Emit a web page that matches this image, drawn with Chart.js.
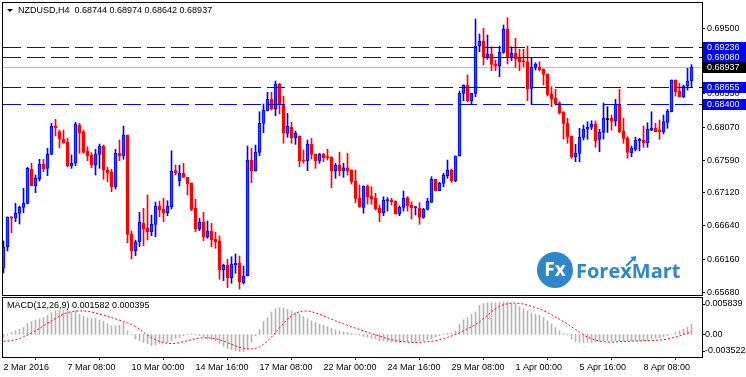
<!DOCTYPE html>
<html>
<head>
<meta charset="utf-8">
<script src="https://cdn.jsdelivr.net/npm/chart.js@4"></script>
<style>
  body { margin: 0; background: #fff; }
  #wrap { position: relative; width: 746px; height: 377px; overflow: hidden; }
  canvas { position: absolute; left: 0; display: block; }
  #main { top: 0; }
  #macd { top: 297px; }
</style>
</head>
<body>
<div id="wrap">
  <canvas id="main" width="746" height="296"></canvas>
  <canvas id="macd" width="746" height="80"></canvas>
</div>
<script>
const symbol = 'NZDUSD,H4';
const macdName = 'MACD(12,26,9)';

const open = [0.66032,0.66335,0.66774,0.66751,0.66823,0.66910,0.66968,0.67460,0.67222,0.67319,
  0.67536,0.67474,0.67675,0.68086,0.68004,0.67898,0.67850,0.67508,0.67547,0.68101,
  0.68004,0.67725,0.67667,0.67522,0.67677,0.67797,0.67450,0.67421,0.67208,0.67691,
  0.67657,0.67956,0.66519,0.66282,0.66412,0.66678,0.66606,0.66557,0.66664,0.66929,
  0.66881,0.66832,0.66919,0.67440,0.67295,0.67402,0.67344,0.67257,0.66895,0.66596,
  0.66693,0.66485,0.66567,0.66451,0.66422,0.66003,0.66075,0.65891,0.66079,0.66100,
  0.65819,0.65920,0.67594,0.67435,0.67706,0.68125,0.68308,0.68473,0.68332,0.68694,
  0.68400,0.67981,0.68068,0.67917,0.67942,0.67594,0.67584,0.67821,0.67677,0.67580,
  0.67677,0.67638,0.67633,0.67440,0.67522,0.67440,0.67483,0.67450,0.67290,0.67040,
  0.66910,0.67218,0.67073,0.67040,0.66895,0.66832,0.67006,0.67016,0.67001,0.66813,
  0.66910,0.67049,0.66943,0.66904,0.66895,0.66765,0.66881,0.66982,0.67315,0.67150,
  0.67257,0.67367,0.67450,0.67295,0.67652,0.68559,0.68675,0.68452,0.68559,0.69244,
  0.69316,0.69089,0.69124,0.68983,0.68959,0.69153,0.69490,0.69080,0.69138,0.69074,
  0.69027,0.69017,0.68632,0.68936,0.68936,0.68911,0.68839,0.68549,0.68487,0.68423,
  0.68293,0.68125,0.67942,0.67642,0.67691,0.67923,0.68039,0.68068,0.68115,0.67894,
  0.67995,0.68180,0.68198,0.68163,0.68405,0.68014,0.67908,0.67700,0.67749,0.67874,
  0.67884,0.67845,0.68028,0.68053,0.68028,0.68004,0.68140,0.68293,0.68752,0.68593,
  0.68510,0.68665,0.68744];
const high = [0.66422,0.66772,0.66776,0.66968,0.66929,0.67185,0.67489,0.67547,0.67377,0.67604,
  0.67604,0.67764,0.68125,0.68183,0.68028,0.68028,0.67908,0.67667,0.68140,0.68125,
  0.68028,0.67787,0.67700,0.67749,0.67826,0.67811,0.67489,0.67460,0.67749,0.67884,
  0.68086,0.67958,0.66567,0.66437,0.66838,0.66895,0.67088,0.66798,0.66987,0.67001,
  0.67040,0.67005,0.67729,0.67522,0.67522,0.67547,0.67346,0.67266,0.67026,0.66751,
  0.66838,0.66712,0.66678,0.66548,0.66495,0.66089,0.66157,0.66195,0.66234,0.66205,
  0.66060,0.67797,0.67764,0.67811,0.68293,0.68405,0.68574,0.68574,0.68737,0.68704,
  0.68520,0.68270,0.68140,0.68014,0.67944,0.67739,0.67884,0.67908,0.67679,0.67691,
  0.67691,0.67749,0.67642,0.67547,0.67706,0.67547,0.67691,0.67452,0.67450,0.67233,
  0.67220,0.67233,0.67208,0.67112,0.66943,0.67063,0.67049,0.67040,0.67003,0.66933,
  0.67146,0.67063,0.66991,0.66921,0.66976,0.66895,0.67040,0.67353,0.67318,0.67272,
  0.67402,0.67594,0.67464,0.67654,0.68593,0.68682,0.68824,0.68561,0.69635,0.69418,
  0.69500,0.69403,0.69234,0.69041,0.69244,0.69548,0.69653,0.69234,0.69355,0.69196,
  0.69196,0.69244,0.69080,0.69002,0.69017,0.68913,0.68841,0.68655,0.68617,0.68438,
  0.68295,0.68198,0.67944,0.67821,0.68053,0.68101,0.68149,0.68163,0.68159,0.68039,
  0.68420,0.68366,0.68245,0.68473,0.68617,0.68198,0.67932,0.67797,0.67923,0.67908,
  0.68086,0.68134,0.68293,0.68125,0.68173,0.68245,0.68328,0.68754,0.68754,0.68704,
  0.68680,0.68921,0.68974];
const low = [0.65959,0.66278,0.66542,0.66702,0.66668,0.66832,0.66958,0.67220,0.67121,0.67290,
  0.67425,0.67367,0.67674,0.67942,0.67772,0.67836,0.67498,0.67474,0.67512,0.67691,
  0.67691,0.67584,0.67483,0.67377,0.67474,0.67315,0.67280,0.67136,0.67175,0.67584,
  0.67604,0.66398,0.66162,0.66210,0.66340,0.66354,0.66437,0.66499,0.66485,0.66774,
  0.66702,0.66788,0.66885,0.67377,0.67218,0.67342,0.67088,0.66861,0.66557,0.66571,
  0.66427,0.66461,0.66340,0.66317,0.65868,0.65848,0.65747,0.65810,0.65955,0.65728,
  0.65800,0.65918,0.67266,0.67433,0.67657,0.67989,0.68306,0.68318,0.68235,0.68260,
  0.67836,0.67923,0.67836,0.67821,0.67498,0.67547,0.67440,0.67609,0.67474,0.67547,
  0.67570,0.67594,0.67193,0.67330,0.67363,0.67344,0.67377,0.67247,0.66976,0.66910,
  0.66823,0.66958,0.66953,0.66871,0.66702,0.66788,0.66856,0.66943,0.66811,0.66788,
  0.66856,0.66856,0.66741,0.66798,0.66664,0.66751,0.66871,0.66980,0.67148,0.67148,
  0.67208,0.67330,0.67272,0.67280,0.67650,0.68452,0.68438,0.68400,0.68510,0.69161,
  0.68969,0.69051,0.68887,0.68887,0.68800,0.69138,0.68983,0.69031,0.68936,0.68887,
  0.68944,0.68452,0.68400,0.68897,0.68882,0.68680,0.68520,0.68366,0.68390,0.68260,
  0.67894,0.67836,0.67619,0.67570,0.67570,0.67884,0.67894,0.68033,0.67778,0.67714,
  0.67898,0.67995,0.68028,0.68086,0.67989,0.67836,0.67619,0.67642,0.67725,0.67725,
  0.67778,0.67778,0.68018,0.68002,0.67894,0.67971,0.68053,0.68290,0.68520,0.68508,
  0.68496,0.68607,0.68642];
const close = [0.66335,0.66770,0.66751,0.66823,0.66910,0.66968,0.67474,0.67222,0.67330,0.67532,
  0.67464,0.67677,0.68086,0.68062,0.67898,0.67845,0.67508,0.67547,0.68115,0.67989,
  0.67706,0.67657,0.67522,0.67681,0.67797,0.67450,0.67411,0.67208,0.67691,0.67657,
  0.67956,0.66519,0.66282,0.66412,0.66693,0.66596,0.66557,0.66664,0.66929,0.66871,
  0.66832,0.66929,0.67435,0.67411,0.67402,0.67344,0.67247,0.66881,0.66596,0.66693,
  0.66485,0.66567,0.66437,0.66412,0.66003,0.66075,0.65891,0.66089,0.66100,0.65833,
  0.65916,0.67594,0.67435,0.67706,0.68125,0.68318,0.68473,0.68332,0.68694,0.68400,
  0.67989,0.68086,0.67917,0.67981,0.67584,0.67580,0.67821,0.67677,0.67580,0.67677,
  0.67628,0.67628,0.67435,0.67522,0.67435,0.67483,0.67440,0.67280,0.67040,0.66919,
  0.67218,0.67063,0.67030,0.66885,0.66832,0.67016,0.67016,0.66991,0.66813,0.66910,
  0.67040,0.66933,0.66904,0.66919,0.66765,0.66881,0.67001,0.67315,0.67150,0.67257,
  0.67377,0.67450,0.67295,0.67652,0.68559,0.68680,0.68448,0.68559,0.69244,0.69316,
  0.69089,0.69124,0.68979,0.68959,0.69153,0.69490,0.69080,0.69138,0.69056,0.69017,
  0.69017,0.68622,0.68936,0.68983,0.68897,0.68834,0.68545,0.68477,0.68405,0.68279,
  0.68125,0.67932,0.67642,0.67691,0.67923,0.68039,0.68068,0.68115,0.67874,0.67995,
  0.68198,0.68180,0.68163,0.68405,0.68004,0.67908,0.67706,0.67764,0.67884,0.67894,
  0.67845,0.68039,0.68053,0.68004,0.68004,0.68149,0.68303,0.68752,0.68583,0.68510,
  0.68665,0.68737,0.68937];

const macdMain = [-0.000515,-0.000103,0.000309,0.000567,0.000824,0.001082,0.0017,0.002009,0.002266,0.002472,
  0.002627,0.002987,0.003399,0.003708,0.003811,0.003811,0.003657,0.003502,0.003657,0.003142,
  0.002884,0.002627,0.002472,0.002472,0.002266,0.002009,0.0017,0.001339,0.001339,0.001442,
  0.001854,0.000567,-0.000052,-0.000721,-0.000979,-0.001236,-0.001494,-0.001751,-0.001648,-0.001391,
  -0.001236,-0.001236,-0.000979,-0.000618,-0.000464,-0.000206,-0.000052,0.000052,-0.000103,-0.000206,
  -0.000464,-0.000721,-0.000824,-0.000979,-0.001494,-0.001854,-0.002163,-0.002369,-0.002524,-0.002678,
  -0.002678,-0.002266,-0.001236,-0.000206,0.000721,0.002009,0.002627,0.003502,0.004017,0.004172,
  0.004069,0.003914,0.003657,0.003399,0.003142,0.002781,0.002472,0.002112,0.001854,0.001597,
  0.001442,0.001236,0.000927,0.000721,0.000567,0.000412,0.000309,0.000155,0.000052,-0.000103,
  -0.000309,-0.000464,-0.000618,-0.000721,-0.000979,-0.000979,-0.001133,-0.001236,-0.001236,-0.001236,
  -0.001133,-0.001133,-0.001133,-0.001082,-0.000979,-0.000979,-0.000824,-0.000721,-0.000464,-0.000206,
  0.000052,0.000155,0.000206,0.000567,0.001597,0.002266,0.002627,0.003142,0.003502,0.004532,
  0.004841,0.004944,0.004944,0.004944,0.005047,0.005099,0.005047,0.004841,0.004687,0.004326,
  0.004017,0.003657,0.003296,0.003142,0.002987,0.002627,0.002112,0.001597,0.001082,0.000567,
  0.000155,-0.000103,-0.000721,-0.001133,-0.001236,-0.001236,-0.001236,-0.001236,-0.001133,-0.001082,
  -0.00103,-0.000979,-0.000979,-0.000979,-0.000979,-0.000979,-0.000979,-0.000979,-0.000979,-0.000979,
  -0.000979,-0.000979,-0.000721,-0.000618,-0.000515,-0.000361,-0.000206,0,0.000309,0.000567,
  0.000824,0.001133,0.001582];
const macdSignal = [-0.001082,-0.00103,-0.000927,-0.000824,-0.000618,-0.000361,-0.000103,0.000206,0.000567,0.000927,
  0.001339,0.001751,0.002112,0.002472,0.002884,0.003193,0.003399,0.003554,0.003657,0.003657,
  0.003657,0.003605,0.003502,0.003348,0.003193,0.003039,0.002833,0.002627,0.002421,0.002215,
  0.002009,0.001803,0.001545,0.001236,0.000824,0.000309,-0.000103,-0.000515,-0.000824,-0.001082,
  -0.001288,-0.001391,-0.001442,-0.001391,-0.001288,-0.001133,-0.000979,-0.000824,-0.00067,-0.000567,
  -0.000515,-0.000515,-0.000567,-0.00067,-0.000824,-0.00103,-0.001288,-0.001545,-0.001803,-0.002009,
  -0.002163,-0.002266,-0.002266,-0.002163,-0.001957,-0.001545,-0.00103,-0.000412,0.000309,0.00103,
  0.001751,0.002369,0.002884,0.003296,0.003554,0.003657,0.003657,0.003554,0.003348,0.003142,
  0.002884,0.002627,0.002369,0.002112,0.001854,0.001648,0.001442,0.001185,0.000979,0.000773,
  0.000567,0.000361,0.000155,-0.000052,-0.000258,-0.000464,-0.00067,-0.000824,-0.000979,-0.001082,
  -0.001133,-0.001185,-0.001236,-0.001236,-0.001236,-0.001185,-0.001133,-0.001082,-0.000979,-0.000824,
  -0.000618,-0.000464,-0.000258,0,0.000258,0.000567,0.000876,0.001185,0.001545,0.001957,
  0.002472,0.002987,0.003554,0.004017,0.004378,0.004635,0.00479,0.004893,0.004893,0.004841,
  0.004738,0.004584,0.004378,0.004172,0.003966,0.003708,0.003399,0.00309,0.00273,0.002369,
  0.002009,0.001648,0.001185,0.000773,0.000361,-0.000052,-0.000412,-0.00067,-0.000876,-0.00103,
  -0.001133,-0.001185,-0.001185,-0.001185,-0.001133,-0.001082,-0.001082,-0.00103,-0.00103,-0.00103,
  -0.000979,-0.000979,-0.000979,-0.000927,-0.000876,-0.000824,-0.000721,-0.000567,-0.000412,-0.000206,
  0,0.000206,0.000395];

const timeLabels = ['2 Mar 2016','7 Mar 08:00','10 Mar 00:00','14 Mar 16:00','17 Mar 08:00','22 Mar 00:00',
  '24 Mar 16:00','29 Mar 08:00','1 Apr 00:00','5 Apr 16:00','8 Apr 08:00'];
const barsPerLabel = 16;

const priceTicks = [0.69500,0.69030,0.68550,0.68070,0.67590,0.67120,0.66640,0.66160,0.65680];
const priceMin = 0.65641, priceMax = 0.69881;
const levels = [0.69236, 0.69080, 0.68655, 0.68400];
const markLevel = [0.69236, 0.69080, 0.68655, 0.68400, 0.68400];
const markFrom = [126, 120, 114, 114, 150];
const markTo = [130, 135, 120, 118, 154];
const macdMin = -0.003522, macdMax = 0.005839;

const xMin = -0.375, xMax = 174.625;
const FONT = '9px "Liberation Sans"';
const idx = open.map((_, i) => i);
const last = close.length - 1;

function candleColor(i) {
  if (open[i] === close[i]) return '#000000';
  return close[i] > open[i] ? '#0000ff' : '#ff0000';
}
function bodyFill(i) {
  if (open[i] === close[i]) return '#000000';
  return close[i] > open[i] ? '#1e4bff' : '#ff0000';
}

function drawLogo(ctx, cx, cy) {
  const blue = '#2f86c8';
  ctx.fillStyle = blue;
  ctx.beginPath();
  ctx.arc(cx, cy, 18, 0, Math.PI * 2);
  ctx.fill();
  ctx.fillStyle = '#ffffff';
  ctx.font = 'bold 19px "Open Sans"';
  ctx.textAlign = 'center';
  ctx.textBaseline = 'middle';
  ctx.fillText('Fx', cx, cy + 1);
  ctx.fillStyle = blue;
  ctx.font = 'bold 20px "Open Sans"';
  ctx.textAlign = 'left';
  ctx.fillText('ForexMart', cx + 21, cy + 2);
  // little arrow over the x
  const ax = cx + 21 + ctx.measureText('Fore').width + 6;
  ctx.strokeStyle = blue;
  ctx.lineWidth = 2;
  ctx.beginPath();
  ctx.moveTo(ax, cy - 4);
  ctx.lineTo(ax + 8, cy - 12);
  ctx.stroke();
  ctx.beginPath();
  ctx.moveTo(ax + 10, cy - 14);
  ctx.lineTo(ax + 4, cy - 13);
  ctx.lineTo(ax + 9, cy - 8);
  ctx.closePath();
  ctx.fill();
}

const mainDecor = {
  id: 'mainDecor',
  beforeDatasetsDraw(chart) {
    const { ctx, chartArea: a, scales: { y } } = chart;
    ctx.save();
    drawLogo(ctx, a.right - 147, a.bottom - 25);
    const by = Math.round(y.getPixelForValue(close[last])) + 0.5;
    ctx.strokeStyle = '#c0c0c0';
    ctx.lineWidth = 1;
    ctx.beginPath();
    ctx.moveTo(a.left, by);
    ctx.lineTo(a.right, by);
    ctx.stroke();
    ctx.restore();
  },
  afterDatasetsDraw(chart) {
    const { ctx, chartArea: a, scales: { x, y } } = chart;
    ctx.save();
    ctx.beginPath();
    ctx.rect(a.left, a.top, a.width, a.height);
    ctx.clip();
    ctx.strokeStyle = '#0000ff';
    ctx.lineWidth = 1;
    ctx.setLineDash([18, 6]);
    levels.forEach(v => {
      const ly = Math.round(y.getPixelForValue(v)) + 0.5;
      ctx.beginPath();
      ctx.moveTo(a.left + 1, ly);
      ctx.lineTo(a.right, ly);
      ctx.stroke();
    });
    ctx.setLineDash([]);
    markLevel.forEach((v, k) => {
      const ly = Math.round(y.getPixelForValue(v)) + 0.5;
      ctx.beginPath();
      ctx.moveTo(x.getPixelForValue(markFrom[k]), ly);
      ctx.lineTo(x.getPixelForValue(markTo[k]), ly);
      ctx.stroke();
    });
    ctx.restore();
  },
  afterDraw(chart) {
    const { ctx, chartArea: a, scales: { y } } = chart;
    ctx.save();
    ctx.strokeStyle = '#000';
    ctx.lineWidth = 1;
    ctx.strokeRect(a.left + 0.5, a.top + 0.5, a.width, a.height);

    ctx.font = FONT;
    ctx.textBaseline = 'middle';
    ctx.textAlign = 'left';
    const boxes = levels.map(v => [v, '#0000ff']).concat([[close[last], '#000000']]);
    boxes.forEach(([v, c]) => {
      const cy = Math.round(y.getPixelForValue(v));
      ctx.fillStyle = c;
      ctx.fillRect(a.right + 1, cy - 5, chart.width - a.right - 1, 11);
      ctx.fillStyle = '#ffffff';
      ctx.fillText(v.toFixed(5), a.right + 5, cy + 0.5);
    });

    // header
    ctx.fillStyle = '#000';
    ctx.beginPath();
    ctx.moveTo(7, 9);
    ctx.lineTo(13, 9);
    ctx.lineTo(10, 12);
    ctx.closePath();
    ctx.fill();
    const ohlc = [open[last], high[last], low[last], close[last]].map(v => v.toFixed(5)).join(' ');
    ctx.fillText(symbol + '  ' + ohlc, 18, 11);
    ctx.restore();
  }
};

const macdDecor = {
  id: 'macdDecor',
  afterDraw(chart) {
    const { ctx, chartArea: a, scales: { y } } = chart;
    ctx.save();
    ctx.strokeStyle = '#000';
    ctx.lineWidth = 1;
    ctx.strokeRect(a.left + 0.5, a.top + 0.5, a.width, a.height);
    ctx.font = FONT;
    ctx.fillStyle = '#000';
    ctx.textBaseline = 'middle';
    ctx.textAlign = 'left';
    ctx.fillText(macdName + ' ' + macdMain[last].toFixed(6) + ' ' + macdSignal[last].toFixed(6), a.left + 5, a.top + 9);
    const marks = [[macdMax.toFixed(6), a.top + 7], ['0.00', y.getPixelForValue(0)], [macdMin.toFixed(6), a.bottom - 6]];
    marks.forEach(([t, py]) => {
      const ry = Math.round(py) + 0.5;
      ctx.beginPath();
      ctx.moveTo(a.right, ry);
      ctx.lineTo(a.right + 3, ry);
      ctx.stroke();
      ctx.fillText(t, a.right + 3, py);
    });
    ctx.restore();
  }
};

new Chart(document.getElementById('main'), {
  type: 'bar',
  data: {
    datasets: [
      {
        label: 'wick',
        data: idx.map(i => ({ x: i, y: [low[i], high[i]] })),
        backgroundColor: idx.map(candleColor),
        barThickness: 1,
        grouped: false,
        order: 2
      },
      {
        label: 'body',
        data: idx.map(i => ({ x: i, y: [open[i], close[i]] })),
        backgroundColor: idx.map(bodyFill),
        borderColor: idx.map(candleColor),
        borderWidth: 1,
        borderSkipped: false,
        barThickness: 3,
        minBarLength: 1,
        grouped: false,
        order: 1
      }
    ]
  },
  options: {
    responsive: false,
    animation: false,
    events: [],
    layout: { padding: { left: 2, top: 2, right: 0, bottom: 1 } },
    plugins: { legend: { display: false }, tooltip: { enabled: false } },
    scales: {
      x: { type: 'linear', min: xMin, max: xMax, offset: false, display: false },
      y: {
        position: 'right',
        min: priceMin,
        max: priceMax,
        afterBuildTicks: s => { s.ticks = priceTicks.map(v => ({ value: v })); },
        afterFit: s => { s.width = 44; s.paddingTop = 0; s.paddingBottom = 0; },
        grid: { drawOnChartArea: false, tickLength: 3, color: '#000' },
        border: { display: false },
        ticks: { padding: 2, color: '#000', font: { family: 'Liberation Sans', size: 9 }, callback: v => v.toFixed(5) }
      }
    }
  },
  plugins: [mainDecor]
});

new Chart(document.getElementById('macd'), {
  type: 'bar',
  data: {
    datasets: [
      {
        type: 'line',
        label: 'signal',
        data: idx.map(i => ({ x: i, y: macdSignal[i] })),
        borderColor: '#ff0000',
        borderWidth: 1,
        borderDash: [2, 2],
        pointRadius: 0,
        tension: 0,
        order: 1
      },
      {
        label: 'main',
        data: idx.map(i => ({ x: i, y: macdMain[i] })),
        backgroundColor: '#b4b4b4',
        barThickness: 1,
        grouped: false,
        order: 2
      }
    ]
  },
  options: {
    responsive: false,
    animation: false,
    events: [],
    layout: { padding: { left: 2, top: 0, right: 0, bottom: 0 } },
    plugins: { legend: { display: false }, tooltip: { enabled: false } },
    scales: {
      x: {
        type: 'linear', min: xMin, max: xMax, offset: false,
        afterBuildTicks: s => { s.ticks = timeLabels.map((_, k) => ({ value: k * barsPerLabel })); },
        afterFit: s => { s.height = 20; s.paddingLeft = 0; s.paddingRight = 0; },
        grid: { drawOnChartArea: false, tickLength: 3, color: '#000' },
        border: { display: false },
        ticks: {
          align: 'start', maxRotation: 0, autoSkip: false, padding: 2, color: '#000',
          font: { family: 'Liberation Sans', size: 9 },
          callback: (v, k) => timeLabels[k]
        }
      },
      y: {
        position: 'right',
        min: macdMin,
        max: macdMax,
        afterFit: s => { s.width = 44; s.paddingTop = 0; s.paddingBottom = 0; },
        grid: { display: false },
        border: { display: false },
        ticks: { display: false }
      }
    }
  },
  plugins: [macdDecor]
});
</script>
</body>
</html>
